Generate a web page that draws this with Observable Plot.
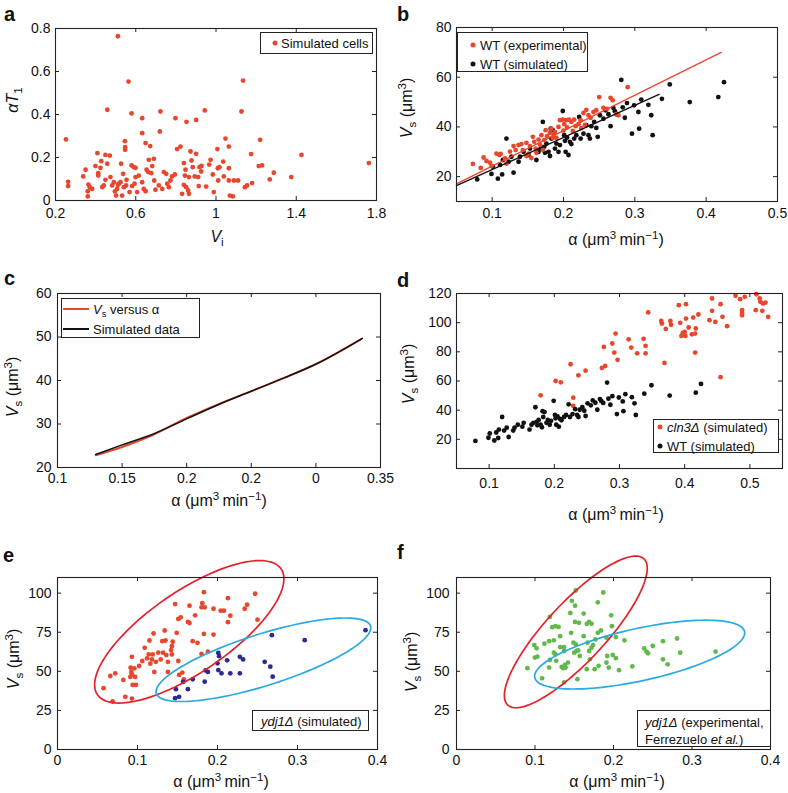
<!DOCTYPE html>
<html><head><meta charset="utf-8">
<script src="https://cdn.jsdelivr.net/npm/d3@7"></script>
<script src="https://cdn.jsdelivr.net/npm/@observablehq/plot@0.6"></script>
<style>
body{margin:0;background:#fff;}
#root{position:relative;width:788px;height:793px;font-family:"Liberation Sans",Arial,sans-serif;color:#111;overflow:hidden;}
.p{position:absolute}
.lab{position:absolute;font-size:16px;white-space:nowrap;transform:translate(-50%,-50%);line-height:1}
.ylab{transform:translate(-50%,-50%) rotate(-90deg)}
.letter{position:absolute;font-weight:bold;font-size:20px;line-height:1}
.leg{position:absolute;border:1px solid #222;background:#fff;font-size:13px;box-sizing:border-box}
.row{position:absolute;white-space:nowrap;line-height:1;transform:translateY(-50%)}
.dot{position:absolute;width:5px;height:5px;border-radius:50%;transform:translate(-50%,-50%)}
.ln{position:absolute;height:2px;transform:translateY(-50%)}
sub,sup{font-size:0.72em;line-height:0}
</style>
</head><body><div id="root"></div>
<script>
// ---------- DATA ----------
const redDot = "#E9472D", blackDot = "#111111", navyDot = "#2D2B8D", greenDot = "#62B94B";
const redEll = "#E42128", cyanEll = "#29AAE2";

// panel a: [V_i, alpha*T1]
const aCells = [[0.511,0.764],[0.564,0.553],[1.135,0.558],[0.458,0.422],[0.579,0.405],[0.723,0.414],[0.632,0.383],[0.798,0.383],[0.853,0.366],[0.901,0.375],[0.944,0.419],[1.127,0.414],[0.72,0.321],[0.632,0.313],[0.252,0.284],[0.546,0.276],[0.547,0.248],[0.547,0.236],[0.649,0.267],[0.672,0.253],[0.823,0.251],[0.806,0.239],[1.047,0.288],[1.064,0.251],[1.007,0.239],[1.22,0.282],[1.175,0.216],[1.426,0.212],[1.762,0.174],[0.409,0.22],[0.449,0.212],[0.471,0.209],[0.428,0.183],[0.399,0.16],[0.35,0.143],[0.338,0.112],[0.263,0.087],[0.263,0.067],[0.364,0.074],[0.371,0.062],[0.361,0.043],[0.361,0.019],[0.383,0.054],[0.413,0.127],[0.413,0.116],[0.424,0.152],[0.441,0.07],[0.433,0.062],[0.449,0.096],[0.474,0.109],[0.482,0.07],[0.491,0.085],[0.496,0.042],[0.507,0.054],[0.502,0.023],[0.516,0.078],[0.524,0.085],[0.532,0.023],[0.541,0.062],[0.527,0.171],[0.537,0.124],[0.554,0.096],[0.579,0.163],[0.59,0.155],[0.599,0.152],[0.582,0.067],[0.594,0.078],[0.607,0.039],[0.569,0.039],[0.599,0.109],[0.615,0.116],[0.632,0.085],[0.64,0.054],[0.649,0.043],[0.654,0.143],[0.665,0.189],[0.682,0.16],[0.662,0.132],[0.69,0.194],[0.677,0.127],[0.692,0.093],[0.698,0.05],[0.715,0.07],[0.732,0.054],[0.74,0.132],[0.752,0.124],[0.757,0.078],[0.765,0.062],[0.781,0.112],[0.795,0.121],[0.773,0.093],[0.84,0.174],[0.848,0.143],[0.84,0.073],[0.851,0.062],[0.861,0.047],[0.831,0.031],[0.865,0.031],[0.845,0.116],[0.865,0.109],[0.873,0.228],[0.878,0.186],[0.884,0.155],[0.901,0.217],[0.894,0.112],[0.911,0.109],[0.918,0.155],[0.926,0.135],[0.914,0.067],[0.928,0.161],[0.951,0.065],[0.966,0.167],[0.973,0.189],[0.984,0.121],[0.989,0.039],[1.009,0.15],[1.017,0.155],[1.011,0.093],[1.036,0.181],[1.039,0.112],[1.064,0.15],[1.064,0.093],[1.089,0.093],[1.11,0.093],[1.069,0.023],[1.084,0.019],[1.144,0.062],[1.155,0.07],[1.18,0.081],[1.213,0.16],[1.23,0.163],[1.268,0.098],[1.288,0.129],[1.375,0.109],[0.458,0.171],[0.512,0.073],[0.552,0.07]];

// panel b: [alpha, Vs]
const bExperimental = [[0.073,25.1],[0.088,27.7],[0.097,25.6],[0.099,24.3],[0.106,29.3],[0.11,28.7],[0.112,29.1],[0.118,27.3],[0.125,30.1],[0.13,32.3],[0.133,30.7],[0.137,32.7],[0.141,33.1],[0.143,30.7],[0.148,33.6],[0.148,28.3],[0.151,29.3],[0.153,32.3],[0.157,36],[0.159,34],[0.161,31.3],[0.165,34.9],[0.167,32.9],[0.169,36.7],[0.173,34.7],[0.175,38.7],[0.177,36.3],[0.181,37.6],[0.183,39.3],[0.186,36.9],[0.188,38],[0.19,35.6],[0.193,40],[0.195,42.7],[0.199,42.9],[0.201,41.1],[0.204,42.7],[0.208,42.9],[0.211,42],[0.215,42.9],[0.217,40.3],[0.221,41.1],[0.224,42.7],[0.228,45.6],[0.232,46.9],[0.235,44.7],[0.238,43.7],[0.242,46],[0.246,46.7],[0.25,52],[0.256,47.7],[0.261,47.3],[0.266,51.7],[0.269,50.7],[0.274,45.1],[0.277,44.7],[0.29,56],[0.162,29.6],[0.12,25.2],[0.084,23.5],[0.092,26.3],[0.155,27.5],[0.171,30.8],[0.2,38.5],[0.205,39.8],[0.225,39.5],[0.185,35.5],[0.213,38.4],[0.23,40.8]];
const wtSimulated = [[0.079,18.9],[0.099,21.1],[0.108,19.2],[0.114,20.9],[0.12,35.3],[0.13,21.6],[0.101,24],[0.111,24.7],[0.115,26.7],[0.123,26],[0.127,28],[0.137,26],[0.139,28],[0.144,30],[0.151,28.7],[0.153,31.3],[0.162,26.7],[0.165,30],[0.168,31.3],[0.171,42],[0.173,32],[0.174,29.6],[0.176,33.3],[0.179,30],[0.181,28.3],[0.182,39.3],[0.185,38.7],[0.183,35.3],[0.188,31.3],[0.19,33.3],[0.193,30],[0.195,32.7],[0.199,46.4],[0.201,36.7],[0.202,34.4],[0.203,30],[0.205,35.7],[0.207,28.7],[0.209,34],[0.211,33.1],[0.215,35.3],[0.218,36.7],[0.222,44],[0.224,35.3],[0.228,37.3],[0.232,40.7],[0.235,36.7],[0.237,35.3],[0.239,40.3],[0.243,42],[0.246,39.6],[0.248,36],[0.251,44.7],[0.256,43.3],[0.259,46.7],[0.263,45.1],[0.266,40.3],[0.27,47.6],[0.272,46.3],[0.275,45],[0.281,58.9],[0.283,47.9],[0.286,43.7],[0.289,49.6],[0.296,37.3],[0.299,48.7],[0.305,46],[0.306,39.3],[0.309,51],[0.319,48.9],[0.323,44.7],[0.325,36.7],[0.338,51.3],[0.349,57.1],[0.377,50],[0.417,52],[0.425,58]];
const bFitExperimental = [[0.05,17.1],[0.421,70]];
const bFitSimulated = [[0.05,16.4],[0.334,53.1]];

// panel c
const cModel = [[0.1296,22.8],[0.15,24.7],[0.1733,27.4],[0.2008,31.5],[0.2257,34.7],[0.2505,37.6],[0.2754,40.6],[0.3003,43.8],[0.335,49.5]];
const cSimulated = [[0.1296,23.0],[0.15,25.2],[0.1733,27.6],[0.2008,31.3],[0.2257,34.6],[0.2505,37.6],[0.2754,40.6],[0.3003,43.8],[0.336,49.7]];

// panel d
const dCln3 = [[0.179,50.2],[0.202,60],[0.21,59.1],[0.225,71.5],[0.229,48.6],[0.237,63.9],[0.248,67.1],[0.273,69],[0.278,70.3],[0.276,83.4],[0.289,85.7],[0.294,92.5],[0.292,79.5],[0.297,74.5],[0.314,88.6],[0.318,82.9],[0.327,79],[0.337,88.9],[0.34,84.1],[0.34,79],[0.344,107],[0.364,101.2],[0.365,99.4],[0.371,95.7],[0.378,101.2],[0.379,98.5],[0.369,72.4],[0.391,112],[0.402,112.7],[0.393,99.9],[0.402,102.8],[0.395,90.9],[0.397,93],[0.401,90.9],[0.4,93.6],[0.406,96.7],[0.411,92],[0.416,92.5],[0.413,103.5],[0.417,96],[0.421,105.6],[0.416,79.5],[0.442,116.6],[0.442,108.1],[0.438,101.7],[0.455,112.7],[0.458,104],[0.447,100.5],[0.455,62.6],[0.465,97.6],[0.478,118.4],[0.485,116.1],[0.488,108.6],[0.488,106.7],[0.488,105.1],[0.492,117.7],[0.51,119.5],[0.509,108.6],[0.515,116.6],[0.516,114.3],[0.52,113.1],[0.524,113.8],[0.519,108.1],[0.528,104],[0.229,43]];

// panel e
const eWT = [[0.0576,39.2],[0.0689,30.7],[0.066,47],[0.0722,48.7],[0.0823,44.5],[0.0848,33.7],[0.0931,32.6],[0.0923,49.6],[0.091,46.4],[0.093,48.1],[0.0914,52.3],[0.094,41.3],[0.098,41.3],[0.097,46.4],[0.093,59.3],[0.096,51.9],[0.102,53.4],[0.106,56.6],[0.109,65],[0.112,58.3],[0.114,60.8],[0.116,54.9],[0.115,69.7],[0.119,60.8],[0.118,57.6],[0.12,74.2],[0.121,49.6],[0.123,56.1],[0.126,61.9],[0.129,57.6],[0.131,69.3],[0.134,76.1],[0.135,69.7],[0.132,61.9],[0.136,60.4],[0.138,56.1],[0.138,49.6],[0.142,63.6],[0.143,66.1],[0.143,60.8],[0.144,68.9],[0.147,93],[0.149,74.6],[0.151,83.5],[0.154,84.5],[0.151,56.6],[0.152,47.7],[0.156,49.2],[0.158,44.9],[0.163,81.6],[0.165,80.9],[0.165,92],[0.169,69.3],[0.172,85.8],[0.175,68.2],[0.18,90.9],[0.184,90.9],[0.181,93.6],[0.183,100.6],[0.183,73.9],[0.18,61.2],[0.188,62.5],[0.195,90],[0.195,73.5],[0.204,88.8],[0.208,88.8],[0.213,96.8],[0.213,81.4],[0.216,85.6],[0.234,90],[0.237,92.6],[0.247,99.6],[0.25,83]];
const eYdj1 = [[0.147,32.8],[0.152,33.7],[0.148,38.6],[0.157,43.2],[0.163,38.6],[0.169,44.9],[0.184,43.4],[0.185,50.6],[0.188,49.6],[0.201,61.7],[0.202,59.7],[0.2,55.1],[0.201,50.8],[0.205,48.7],[0.212,57],[0.216,48.7],[0.228,59.3],[0.232,57.6],[0.228,48.7],[0.259,56.1],[0.266,53],[0.268,73.1],[0.269,46.6],[0.309,69.9],[0.385,76.3]];
// ellipse params: [centre alpha, half-range alpha, centre Vs, half-range Vs, phase deg]
const eEllipseRed = [0.1647, 0.1183, 75.25, 45.55, 42];
const eEllipseBlue = [0.2574, 0.1342, 57.4, 26.7, 40.2];

// panel f
const fYdj1 = [[0.0903,52],[0.0991,66.8],[0.102,64.7],[0.0999,58.8],[0.103,59.4],[0.109,45.5],[0.112,67.7],[0.119,84.8],[0.118,69.3],[0.119,57.3],[0.118,52.4],[0.124,69.8],[0.122,78.2],[0.126,78.9],[0.13,78.4],[0.124,61.9],[0.126,60.9],[0.127,56.7],[0.132,72.5],[0.132,65.5],[0.134,52.9],[0.136,52],[0.138,54.1],[0.139,52.4],[0.137,42.9],[0.142,55.6],[0.137,63],[0.137,65.5],[0.145,87.3],[0.147,95.1],[0.15,61.9],[0.153,63],[0.155,63.4],[0.149,68.3],[0.152,67.2],[0.151,92],[0.146,74.6],[0.151,81.6],[0.152,101.7],[0.154,45],[0.156,81],[0.157,59.8],[0.162,72.5],[0.162,86.9],[0.166,80.3],[0.169,81.6],[0.172,80.5],[0.167,68.3],[0.169,63],[0.17,57.7],[0.166,51.4],[0.172,65.1],[0.174,66.8],[0.177,70.4],[0.18,74.6],[0.184,76.1],[0.18,94.1],[0.176,51.4],[0.181,53.5],[0.187,100.4],[0.191,71.5],[0.192,59.8],[0.191,55.6],[0.194,52.4],[0.197,85.8],[0.198,78.9],[0.199,60.5],[0.203,71.9],[0.203,58.4],[0.207,50.7],[0.214,69.8],[0.224,53.1],[0.239,64.7],[0.242,62.6],[0.244,61.5],[0.25,66.2],[0.263,69.3],[0.263,57.7],[0.269,54.5],[0.281,71],[0.285,61.9],[0.33,62.6]];
const fEllipseRed = [0.152, 0.091, 75.2, 48.5, 33];
const fEllipseBlue = [0.2333, 0.1338, 60.7, 22.0, 51];

// tick values and labels
const aXTicks = [0.2,0.6,1,1.4,1.8], aXLabels = ["0.2","0.6","1","1.4","1.8"];
const aYTicks = [0,0.2,0.4,0.6,0.8], aYLabels = ["0","0.2","0.4","0.6","0.8"];
const bXTicks = [0.1,0.2,0.3,0.4,0.5], bXLabels = ["0.1","0.2","0.3","0.4","0.5"];
const bYTicks = [20,40,60,80], bYLabels = ["20","40","60","80"];
const cXTicks = [0.1,0.15,0.2,0.25,0.3,0.35], cXLabels = ["0.1","0.15","0.2","0.2","0","0.35"];
const cYTicks = [20,30,40,50,60], cYLabels = ["20","30","40","50","60"];
const dXTicks = [0.1,0.2,0.3,0.4,0.5], dXLabels = ["0.1","0.2","0.3","0.4","0.5"];
const dYTicks = [20,40,60,80,100,120], dYLabels = ["20","40","60","80","100","120"];
const efXTicks = [0,0.1,0.2,0.3,0.4], efXLabels = ["0","0.1","0.2","0.3","0.4"];
const efYTicks = [0,25,50,75,100], efYLabels = ["0","25","50","75","100"];

// ---------- DRAW ----------
const root = document.getElementById("root");
function ellipse([cx, A, cy, B, phi]) {
  const pts = [];
  for (let k = 0; k <= 120; k++) {
    const t = k / 120 * 2 * Math.PI;
    pts.push([cx + A * Math.cos(t), cy + B * Math.cos(t - phi * Math.PI / 180)]);
  }
  return pts;
}
const X = d => d[0], Y = d => d[1];
const dots = (data, fill) => Plot.dot(data, {x: X, y: Y, r: 2.4, fill, stroke: null});

function panel(c) {
  const fw = c.width - c.mL - c.mR, fh = c.height - c.mT - c.mB, tl = 4;
  const svg = Plot.plot({
    width: c.width, height: c.height,
    marginLeft: c.mL, marginRight: c.mR, marginTop: c.mT, marginBottom: c.mB,
    x: {domain: c.xDomain}, y: {domain: c.yDomain},
    style: {fontFamily: '"Liberation Sans", Arial, sans-serif', fontSize: "14px", color: "#111", background: "transparent", overflow: "visible"},
    marks: [
      ...c.marks,
      Plot.frame({stroke: "#222", strokeWidth: 1.1}),
      Plot.tickX(c.xTicks, {x: d => d, insetTop: fh - tl, stroke: "#222"}),
      Plot.tickX(c.xTicks, {x: d => d, insetBottom: fh - tl, stroke: "#222"}),
      Plot.tickY(c.yTicks, {y: d => d, insetRight: fw - tl, stroke: "#222"}),
      Plot.tickY(c.yTicks, {y: d => d, insetLeft: fw - tl, stroke: "#222"}),
      Plot.axisX({ticks: c.xTicks, tickSize: 0, tickPadding: c.xPad, tickFormat: d => c.xLabels[c.xTicks.indexOf(d)], label: null}),
      Plot.axisY({ticks: c.yTicks, tickSize: 0, tickPadding: c.yPad, tickFormat: d => c.yLabels[c.yTicks.indexOf(d)], label: null})
    ]
  });
  const div = document.createElement("div");
  div.className = "p";
  div.style.left = c.left + "px"; div.style.top = c.top + "px";
  div.appendChild(svg);
  root.appendChild(div);
}
function html(cls, left, top, inner, extra) {
  const d = document.createElement("div");
  d.className = cls; d.style.left = left + "px"; d.style.top = top + "px";
  if (extra) Object.assign(d.style, extra);
  d.innerHTML = inner;
  root.appendChild(d);
  return d;
}
function legend(left, top, w, h, rows) {
  const box = html("leg", left, top, "", {width: w + "px", height: h + "px"});
  for (const r of rows) {
    if (r.dot) {
      const m = document.createElement("div"); m.className = "dot";
      m.style.left = r.mx + "px"; m.style.top = r.y + "px"; m.style.background = r.dot;
      box.appendChild(m);
    }
    if (r.line) {
      const m = document.createElement("div"); m.className = "ln";
      m.style.left = r.mx + "px"; m.style.width = r.mw + "px"; m.style.top = r.y + "px"; m.style.background = r.line;
      box.appendChild(m);
    }
    const t = document.createElement("div"); t.className = "row";
    t.style.left = r.tx + "px"; t.style.top = r.y + "px"; t.innerHTML = r.text;
    box.appendChild(t);
  }
}

const alphaLabel = 'α (μm<sup>3</sup>&#8201;min<sup>−1</sup>)';
const vsLabel = '<i>V</i><sub>s</sub> (μm<sup>3</sup>)';

// a
panel({left: 0, top: 0, width: 394, height: 260, mL: 55, mR: 18, mT: 28, mB: 60,
  xDomain: [0.2, 1.8], yDomain: [0, 0.8], xTicks: aXTicks, xLabels: aXLabels, yTicks: aYTicks, yLabels: aYLabels, xPad: 8, yPad: 5,
  marks: [dots(aCells, redDot)]});
// b
panel({left: 394, top: 0, width: 394, height: 260, mL: 62, mR: 11, mT: 27, mB: 59,
  xDomain: [0.05, 0.5], yDomain: [10, 80], xTicks: bXTicks, xLabels: bXLabels, yTicks: bYTicks, yLabels: bYLabels, xPad: 7, yPad: 5,
  marks: [dots(wtSimulated, blackDot), dots(bExperimental, redDot),
    Plot.line(bFitExperimental, {x: X, y: Y, stroke: redDot, strokeWidth: 1.4}),
    Plot.line(bFitSimulated, {x: X, y: Y, stroke: blackDot, strokeWidth: 1.4})]});
// c
panel({left: 0, top: 260, width: 394, height: 260, mL: 57, mR: 14, mT: 33, mB: 53,
  xDomain: [0.1, 0.35], yDomain: [20, 60], xTicks: cXTicks, xLabels: cXLabels, yTicks: cYTicks, yLabels: cYLabels, xPad: 6, yPad: 6,
  marks: [Plot.line(cModel, {x: X, y: Y, stroke: redDot, strokeWidth: 2, curve: "monotone-x"}),
    Plot.line(cSimulated, {x: X, y: Y, stroke: blackDot, strokeWidth: 1.5, curve: "monotone-x"})]});
// d
panel({left: 394, top: 260, width: 394, height: 260, mL: 62, mR: 6, mT: 33, mB: 52,
  xDomain: [0.05, 0.55], yDomain: [0, 120], xTicks: dXTicks, xLabels: dXLabels, yTicks: dYTicks, yLabels: dYLabels, xPad: 10, yPad: 5,
  marks: [dots(dCln3, redDot), dots(wtSimulated, blackDot)]});
// e
panel({left: 0, top: 520, width: 394, height: 273, mL: 57, mR: 17, mT: 57, mB: 44,
  xDomain: [0, 0.4], yDomain: [0, 110], xTicks: efXTicks, xLabels: efXLabels, yTicks: efYTicks, yLabels: efYLabels, xPad: 6, yPad: 6,
  marks: [dots(eWT, redDot), dots(eYdj1, navyDot),
    Plot.line(ellipse(eEllipseRed), {x: X, y: Y, stroke: redEll, strokeWidth: 1.7}),
    Plot.line(ellipse(eEllipseBlue), {x: X, y: Y, stroke: cyanEll, strokeWidth: 1.7})]});
// f
panel({left: 394, top: 520, width: 394, height: 273, mL: 62, mR: 18, mT: 57, mB: 44,
  xDomain: [0, 0.4], yDomain: [0, 110], xTicks: efXTicks, xLabels: efXLabels, yTicks: efYTicks, yLabels: efYLabels, xPad: 6, yPad: 7,
  marks: [dots(fYdj1, greenDot),
    Plot.line(ellipse(fEllipseRed), {x: X, y: Y, stroke: redEll, strokeWidth: 1.7}),
    Plot.line(ellipse(fEllipseBlue), {x: X, y: Y, stroke: cyanEll, strokeWidth: 1.7})]});

// panel letters
html("letter", 4, 21 - 17, "a"); html("letter", 397, 21 - 17, "b");
html("letter", 4, 285 - 17, "c"); html("letter", 397, 287 - 17, "d");
html("letter", 3, 562 - 17, "e"); html("letter", 397, 559 - 17, "f");

// axis labels
html("lab", 217, 237, '<i>V</i><sub>i</sub>');
html("lab ylab", 13, 100, '<i>α</i><i>T</i><sub>1</sub>');
html("lab", 616, 240, alphaLabel);
html("lab ylab", 407, 108, vsLabel);
html("lab", 219, 501, alphaLabel);
html("lab ylab", 13, 387, vsLabel);
html("lab", 616, 515, alphaLabel);
html("lab ylab", 409, 374, vsLabel);
html("lab", 221, 782, alphaLabel);
html("lab ylab", 14, 659, vsLabel);
html("lab", 617, 782, alphaLabel);
html("lab ylab", 412, 662, vsLabel);

// legends
legend(260, 32, 113, 22, [{y: 10, dot: redDot, mx: 14, tx: 20, text: "Simulated cells"}]);
legend(457, 32, 131, 40, [
  {y: 12, dot: redDot, mx: 15, tx: 22, text: "WT (experimental)"},
  {y: 31, dot: blackDot, mx: 15, tx: 22, text: "WT (simulated)"}]);
legend(61, 298, 139, 40, [
  {y: 10, line: redDot, mx: 1, mw: 26, tx: 31, text: '<i>V</i><sub>s</sub> versus α'},
  {y: 30, line: blackDot, mx: 1, mw: 26, tx: 31, text: "Simulated data"}]);
legend(653, 419, 126, 34, [
  {y: 7, dot: redDot, mx: 6, tx: 13, text: '<i>cln3Δ</i> (simulated)'},
  {y: 26, dot: blackDot, mx: 6, tx: 13, text: "WT (simulated)"}]);
legend(252, 710, 117, 21, [{y: 10, tx: 8, text: '<i>ydj1Δ</i> (simulated)'}]);
legend(637, 710, 134, 37, [
  {y: 11, tx: 7, text: '<i>ydj1Δ</i> (experimental,'},
  {y: 28, tx: 7, text: 'Ferrezuelo <i>et al.</i>)'}]);
</script>
</body></html>
